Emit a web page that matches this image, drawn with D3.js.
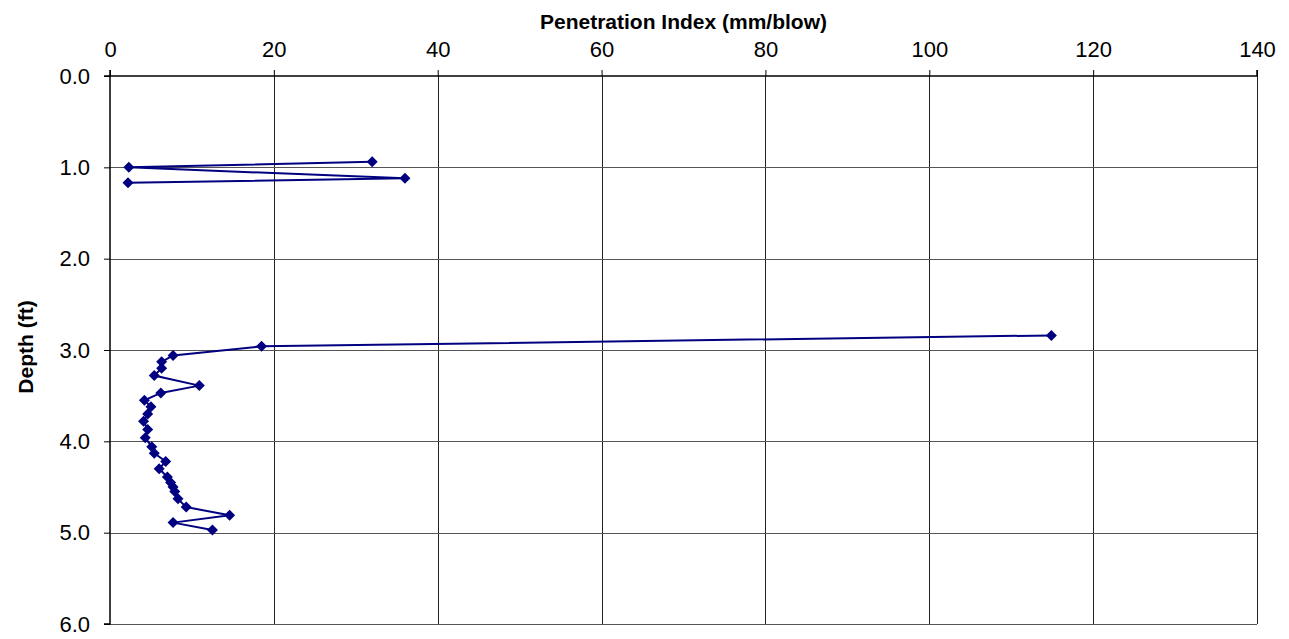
<!DOCTYPE html>
<html>
<head>
<meta charset="utf-8">
<script src="https://cdn.jsdelivr.net/npm/d3@7"></script>
<style>
  html, body { margin: 0; padding: 0; background: #fff; }
  svg { display: block; font-family: "Liberation Sans", Arial, sans-serif; }
</style>
</head>
<body>
<svg id="chart" width="1289" height="639"></svg>
<script>
// Dynamic cone penetrometer profile: penetration index vs depth.
// A null reading marks the interval with no record, so the trace is broken there.
const depthFt = [0.94, 1.00, 1.12, 1.17, 2.00, 2.84, 2.96, 3.06, 3.13, 3.20, 3.28, 3.39, 3.47, 3.55, 3.62,
                 3.70, 3.78, 3.87, 3.96, 4.06, 4.13, 4.22, 4.30, 4.39, 4.45, 4.50, 4.55, 4.63,
                 4.72, 4.81, 4.89, 4.97];
const penIndex = [32.0, 2.3, 36.0, 2.2, null, 114.9, 18.5, 7.7, 6.3, 6.3, 5.4, 10.9, 6.2, 4.2, 5.0,
                  4.6, 4.1, 4.6, 4.3, 5.1, 5.4, 6.8, 6.0, 7.0, 7.4, 7.7, 7.9, 8.3,
                  9.3, 14.6, 7.7, 12.5];
const xTicks = [0, 20, 40, 60, 80, 100, 120, 140];
const yTicks = [0, 1, 2, 3, 4, 5, 6];
const xTitle = "Penetration Index (mm/blow)";
const yTitle = "Depth (ft)";

const points = depthFt.map((d, i) => ({ depth: d, pi: penIndex[i] }));
const readings = points.filter(p => p.pi !== null);

const svg = d3.select("#chart");
const m = { left: 110, right: 1257, top: 76, bottom: 624 };

const x = d3.scaleLinear().domain([0, 140]).range([m.left, m.right]);
const y = d3.scaleLinear().domain([0, 6]).range([m.top, m.bottom]);

// Gridlines
svg.append("g").selectAll("line").data(xTicks.slice(1)).join("line")
  .attr("x1", d => Math.round(x(d)) + 0.5).attr("x2", d => Math.round(x(d)) + 0.5)
  .attr("y1", m.top).attr("y2", m.bottom)
  .attr("stroke", "#222").attr("stroke-width", 1);
svg.append("g").selectAll("line").data(yTicks.slice(1)).join("line")
  .attr("x1", m.left).attr("x2", m.right)
  .attr("y1", d => Math.round(y(d)) + 0.5).attr("y2", d => Math.round(y(d)) + 0.5)
  .attr("stroke", "#555").attr("stroke-width", 1);

// Axes
const xAxis = d3.axisTop(x).tickValues(xTicks).tickFormat(d3.format("d"))
  .tickSize(6).tickPadding(13);
const yAxis = d3.axisLeft(y).tickValues(yTicks).tickFormat(d3.format(".1f"))
  .tickSize(6).tickPadding(14);

const gx = svg.append("g").attr("transform", `translate(0,${m.top})`).call(xAxis);
const gy = svg.append("g").attr("transform", `translate(${m.left},0)`).call(yAxis);
[gx, gy].forEach(g => {
  g.select(".domain").attr("stroke", "#000").attr("stroke-width", 1.5);
  g.selectAll(".tick line").attr("stroke", "#000");
  g.selectAll(".tick text").attr("fill", "#000")
    .style("font-size", "22px").style("font-family", "'Liberation Sans', Arial, sans-serif");
});
gy.select(".domain").attr("d", `M-6,${m.top}H0V${m.bottom}H-6`);
gx.select(".domain").attr("d", `M${m.left},-6V0H${m.right}V-6`);

// Axis titles
svg.append("text")
  .attr("x", (m.left + m.right) / 2).attr("y", 29)
  .attr("text-anchor", "middle")
  .style("font-size", "21px").style("font-weight", "bold")
  .text(xTitle);
svg.append("text")
  .attr("transform", `translate(33,347) rotate(-90)`)
  .attr("text-anchor", "middle")
  .style("font-size", "21px").style("font-weight", "bold")
  .text(yTitle);

// Profile line (broken where no reading exists)
const line = d3.line()
  .defined(d => d.pi !== null)
  .x(d => x(d.pi)).y(d => y(d.depth));
svg.append("path").datum(points)
  .attr("d", line)
  .attr("fill", "none").attr("stroke", "#000080").attr("stroke-width", 2);

// Diamond markers
svg.append("g").selectAll("path").data(readings).join("path")
  .attr("transform", d => `translate(${x(d.pi)},${y(d.depth)})`)
  .attr("d", "M0,-5.5L5.5,0L0,5.5L-5.5,0Z")
  .attr("fill", "#000080");
</script>
</body>
</html>
